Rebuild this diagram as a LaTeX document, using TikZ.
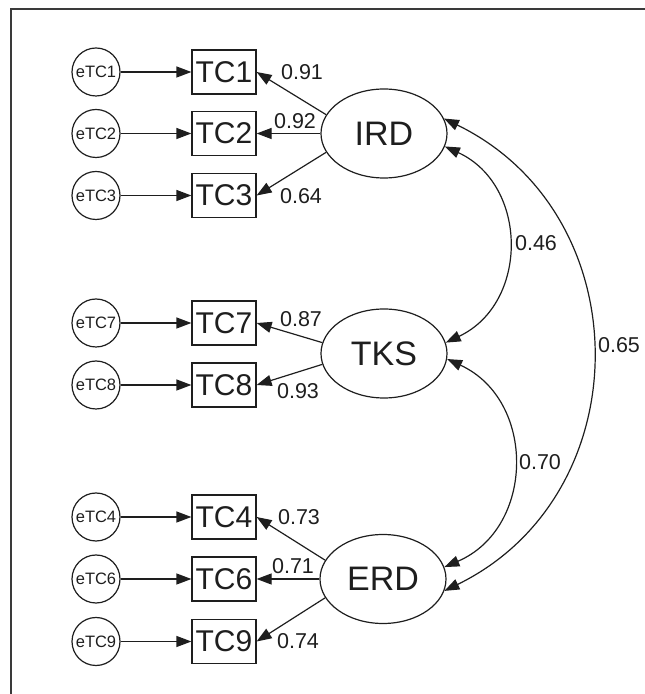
\documentclass[tikz,border=0pt]{standalone}
\usepackage{fontspec}
\setmainfont{Liberation Sans}
\usepackage{xcolor}
\usetikzlibrary{arrows.meta,shapes.geometric}
\definecolor{cframe}{HTML}{3A3A3A}
\definecolor{cink}{HTML}{1E1E1E}

\begin{document}
\begin{tikzpicture}[
    x=1pt, y=1pt, line width=1.2pt, draw=cink, text=cink,
    head/.style={-{Triangle[length=15pt, width=11pt]}},
    both/.style={{Triangle[length=15pt, width=11pt]}-{Triangle[length=15pt, width=11pt]}},
    err/.style={draw, circle, minimum size=48pt, inner sep=0pt, font=\fontsize{16.5}{16.5}\selectfont},
    obs/.style={draw, rectangle, minimum width=64pt, minimum height=44pt, inner sep=0pt, font=\fontsize{30}{30}\selectfont},
    lat/.style={draw, ellipse, minimum width=126pt, minimum height=89pt, inner sep=0pt, font=\fontsize{34}{34}\selectfont},
    coef/.style={font=\fontsize{21.5}{21.5}\selectfont},
]
\useasboundingbox (0,0) rectangle (645,694);
% frame (cut off at right and bottom)
\draw[cframe, line width=2pt] (11,0) -- (11,684.5) -- (645,684.5);
% latent factors
\node[lat] (IRD) at (384,560.5) {IRD};
\node[lat] (TKS) at (384,340.5) {TKS};
\node[lat] (ERD) at (383,115)   {ERD};
% IRD block
\node[obs] (TC1) at (224,622)   {TC1};
\node[obs] (TC2) at (224,560.5) {TC2};
\node[obs] (TC3) at (224,498.5) {TC3};
\node[err] (eTC1) at (96,622)   {eTC1};
\node[err] (eTC2) at (96,560.5) {eTC2};
\node[err] (eTC3) at (96,498.5) {eTC3};
% TKS block
\node[obs] (TC7) at (224,371) {TC7};
\node[obs] (TC8) at (224,309) {TC8};
\node[err] (eTC7) at (96,371) {eTC7};
\node[err] (eTC8) at (96,309) {eTC8};
% ERD block
\node[obs] (TC4) at (224,177)  {TC4};
\node[obs] (TC6) at (224,115)  {TC6};
\node[obs] (TC9) at (224,52.5) {TC9};
\node[err] (eTC4) at (96,177)  {eTC4};
\node[err] (eTC6) at (96,115)  {eTC6};
\node[err] (eTC9) at (96,52.5) {eTC9};
% error terms
\foreach \i in {1,2,3,7,8,4,6,9}
    \draw[head] (eTC\i) -- (TC\i);
% loadings
\draw[head] (IRD.162) -- (TC1.east);
\draw[head] (IRD.west) -- (TC2.east);
\draw[head] (IRD.198) -- (TC3.east);
\draw[head] (TKS.170) -- (TC7.east);
\draw[head] (TKS.190) -- (TC8.east);
\draw[head] (ERD.162) -- (TC4.east);
\draw[head] (ERD.west) -- (TC6.east);
\draw[head] (ERD.198) -- (TC9.east);
\node[coef] (l1) at (302,622) {0.91};
\node[coef] (l2) at (295,573) {0.92};
\node[coef] (l3) at (301,498) {0.64};
\node[coef] (l7) at (301,375) {0.87};
\node[coef] (l8) at (298,303) {0.93};
\node[coef] (l4) at (299,177) {0.73};
\node[coef] (l6) at (293,128) {0.71};
\node[coef] (l9) at (298,53)  {0.74};
% correlations
\draw[both] (IRD.-12) to[bend left=65, looseness=1.2] (TKS.10);
\draw[both] (TKS.-5) to[bend left=66, looseness=1.21] (ERD.11);
\draw[both] (IRD.14) to[bend left=64, looseness=1.19] (ERD.-11);
\node[coef] (r1) at (536,451) {0.46};
\node[coef] (r2) at (540,232) {0.70};
\node[coef] (r3) at (619,349) {0.65};
\end{tikzpicture}
\end{document}
